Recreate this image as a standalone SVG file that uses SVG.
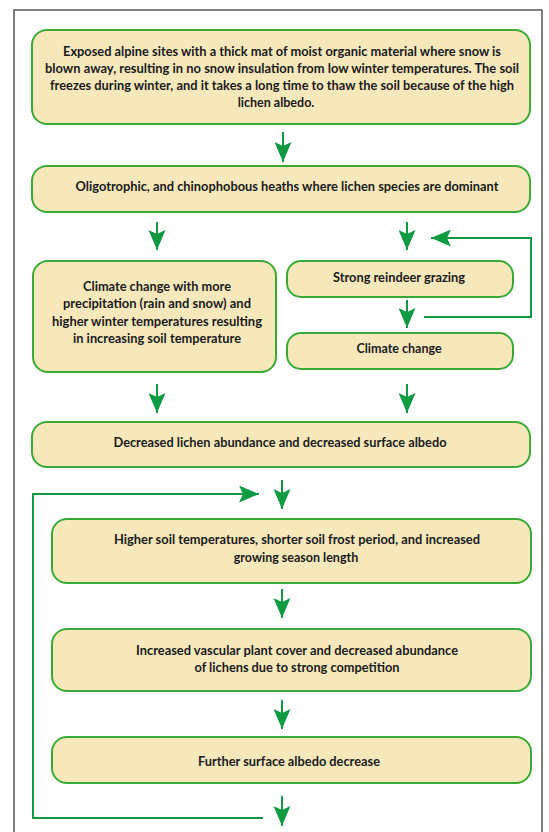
<svg xmlns="http://www.w3.org/2000/svg" width="549" height="832" viewBox="0 0 549 832">
<style>
.box{fill:#f6e8ba;stroke:#3aaa35;stroke-width:2}
.t{font-family:Lato,"Open Sans","Liberation Sans",sans-serif;font-weight:700;font-size:12.5px;fill:#1a1a1a;text-anchor:middle}
.c{fill:none;stroke:#109a42;stroke-width:2}
</style>
<defs>
<marker id="ah" markerUnits="userSpaceOnUse" viewBox="0 0 20 17" markerWidth="20" markerHeight="17" refX="20" refY="8.5" orient="auto">
<path d="M0,0 L20,8.5 L0,17 L4,8.5 Z" fill="#109a42"/>
</marker>
</defs>
<rect width="549" height="832" fill="#fff"/>
<rect x="14" y="10" width="528" height="840" fill="#fff" stroke="#555" stroke-width="1.5"/>
<g id="connectors">
<path class="c" d="M283,132 V162" marker-end="url(#ah)"/>
<path class="c" d="M157,222 V250" marker-end="url(#ah)"/>
<path class="c" d="M407,222 V250" marker-end="url(#ah)"/>
<path class="c" d="M424,317 H531 V238 H431" marker-end="url(#ah)"/>
<path class="c" d="M407,300 V328" marker-end="url(#ah)"/>
<path class="c" d="M157,384 V413" marker-end="url(#ah)"/>
<path class="c" d="M407,384 V413" marker-end="url(#ah)"/>
<path class="c" d="M282,480 V509" marker-end="url(#ah)"/>
<path class="c" d="M263,818 H33 V494 H259" marker-end="url(#ah)"/>
<path class="c" d="M282,589 V618" marker-end="url(#ah)"/>
<path class="c" d="M282,700 V729" marker-end="url(#ah)"/>
<path class="c" d="M282,796 V826" marker-end="url(#ah)"/>
</g>
<g id="n1">
<rect class="box" x="32" y="30" width="498" height="94" rx="15"/>
<text class="t" x="282" y="55.5" textLength="438" lengthAdjust="spacingAndGlyphs">Exposed alpine sites with a thick mat of moist organic material where snow is</text>
<text class="t" x="282" y="72.5" textLength="474" lengthAdjust="spacingAndGlyphs">blown away, resulting in no snow insulation from low winter temperatures. The soil</text>
<text class="t" x="282" y="89.5" textLength="464" lengthAdjust="spacingAndGlyphs">freezes during winter, and it takes a long time to thaw the soil because of the high</text>
<text class="t" x="276" y="106.5">lichen albedo.</text>
</g>
<g id="n2">
<rect class="box" x="32" y="166" width="498" height="46" rx="15"/>
<text class="t" x="287" y="190.5" textLength="423" lengthAdjust="spacingAndGlyphs">Oligotrophic, and chinophobous heaths where lichen species are dominant</text>
</g>
<g id="n3">
<rect class="box" x="33" y="261" width="243" height="111" rx="15"/>
<text class="t" x="157" y="290.5" textLength="148" lengthAdjust="spacingAndGlyphs">Climate change with more</text>
<text class="t" x="157" y="307.5" textLength="188" lengthAdjust="spacingAndGlyphs">precipitation (rain and snow) and</text>
<text class="t" x="157" y="325.5" textLength="210" lengthAdjust="spacingAndGlyphs">higher winter temperatures resulting</text>
<text class="t" x="157" y="342.5" textLength="168" lengthAdjust="spacingAndGlyphs">in increasing soil temperature</text>
</g>
<g id="n4">
<rect class="box" x="287" y="261" width="226" height="36" rx="14"/>
<text class="t" x="399" y="281.5" textLength="132" lengthAdjust="spacingAndGlyphs">Strong reindeer grazing</text>
</g>
<g id="n5">
<rect class="box" x="287" y="333" width="226" height="36" rx="14"/>
<text class="t" x="399" y="352.5">Climate change</text>
</g>
<g id="n6">
<rect class="box" x="32" y="422" width="498" height="45" rx="15"/>
<text class="t" x="280" y="446.5" textLength="333" lengthAdjust="spacingAndGlyphs">Decreased lichen abundance and decreased surface albedo</text>
</g>
<g id="n7">
<rect class="box" x="52" y="519" width="479" height="64" rx="15"/>
<text class="t" x="297" y="543.5" textLength="366" lengthAdjust="spacingAndGlyphs">Higher soil temperatures, shorter soil frost period, and increased</text>
<text class="t" x="296" y="561.5">growing season length</text>
</g>
<g id="n8">
<rect class="box" x="52" y="629" width="479" height="62" rx="15"/>
<text class="t" x="297" y="654.5" textLength="322" lengthAdjust="spacingAndGlyphs">Increased vascular plant cover and decreased abundance</text>
<text class="t" x="297" y="671.5" textLength="205" lengthAdjust="spacingAndGlyphs">of lichens due to strong competition</text>
</g>
<g id="n9">
<rect class="box" x="52" y="737" width="479" height="46" rx="15"/>
<text class="t" x="289" y="765.5" textLength="182" lengthAdjust="spacingAndGlyphs">Further surface albedo decrease</text>
</g>
</svg>
